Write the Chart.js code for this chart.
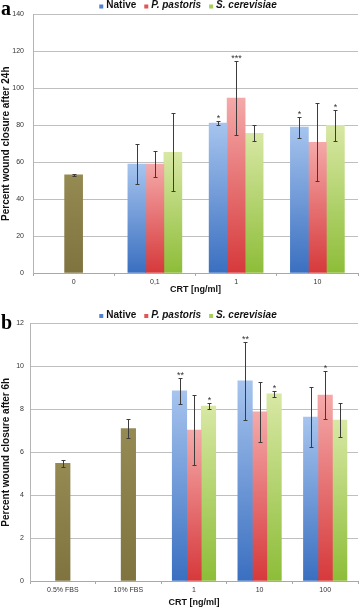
<!DOCTYPE html>
<html>
<head>
<meta charset="utf-8">
<script src="https://cdn.jsdelivr.net/npm/chart.js@4.4.1/dist/chart.umd.min.js"></script>
<style>
  body { margin: 0; background: #fff; }
  .box { position: relative; width: 359px; }
</style>
</head>
<body>
<div class="box" style="height:300px"><canvas id="chartA"></canvas></div>
<div class="box" style="height:309px"><canvas id="chartB"></canvas></div>
<script>
const seriesNames = ['Native', 'P. pastoris', 'S. cerevisiae'];

// panel a - 24h
const catsA = ['0', '0,1', '1', '10'];
const yTicksA = [0, 20, 40, 60, 80, 100, 120, 140];
const controlA = [53.2, null, null, null];
const controlErrA = [0.5, null, null, null];
const nativeA = [null, 59, 81.2, 79];
const nativeErrA = [null, 11, 1, 5.7];
const pastorisA = [null, 59, 94.8, 70.8];
const pastorisErrA = [null, 7, 20, 21];
const cerevisiaeA = [null, 65.4, 75.7, 80];
const cerevisiaeErrA = [null, 21, 4.3, 8.5];
const nativeSigA = ['', '', '*', '*'];
const pastorisSigA = ['', '', '***', ''];
const cerevisiaeSigA = ['', '', '', '*'];

// panel b - 6h
const catsB = ['0.5% FBS', '10% FBS', '1', '10', '100'];
const yTicksB = [0, 2, 4, 6, 8, 10, 12];
const controlB = [5.48, 7.1, null, null, null];
const controlErrB = [0.15, 0.45, null, null, null];
const nativeB = [null, null, 8.86, 9.33, 7.64];
const nativeErrB = [null, null, 0.6, 1.83, 1.38];
const pastorisB = [null, null, 7.03, 7.88, 8.67];
const pastorisErrB = [null, null, 1.63, 1.4, 1.13];
const cerevisiaeB = [null, null, 8.15, 8.72, 7.5];
const cerevisiaeErrB = [null, null, 0.15, 0.15, 0.8];
const nativeSigB = ['', '', '**', '**', ''];
const pastorisSigB = ['', '', '', '', '*'];
const cerevisiaeSigB = ['', '', '*', '*', ''];

const FONT = '"Liberation Sans", Arial, sans-serif';

function barFill(top, bottom) {
  return function (c) {
    const chart = c.chart;
    const v = c.parsed ? c.parsed.y : null;
    const y = chart.scales && chart.scales.y;
    if (v == null || !y) return bottom;
    const y0 = y.getPixelForValue(v);
    const y1 = y.getPixelForValue(0);
    if (!isFinite(y0) || !isFinite(y1) || y0 === y1) return bottom;
    const g = chart.ctx.createLinearGradient(0, y0, 0, y1);
    g.addColorStop(0, top);
    g.addColorStop(1, bottom);
    return g;
  };
}

const errorBars = {
  id: 'errorBars',
  afterDatasetsDraw(chart) {
    const { ctx } = chart;
    const y = chart.scales.y;
    ctx.save();
    chart.data.datasets.forEach((ds, i) => {
      const meta = chart.getDatasetMeta(i);
      meta.data.forEach((bar, j) => {
        const v = ds.data[j];
        if (v == null) return;
        const e = ds.errors[j];
        const x = Math.round(bar.x) + 0.5;
        const yt = Math.round(y.getPixelForValue(v + e)) + 0.5;
        const yb = Math.round(y.getPixelForValue(v - e)) + 0.5;
        ctx.strokeStyle = '#3c3c3c';
        ctx.lineWidth = 1;
        ctx.beginPath();
        ctx.moveTo(x, yt); ctx.lineTo(x, yb);
        ctx.moveTo(x - 2, yt); ctx.lineTo(x + 2, yt);
        ctx.moveTo(x - 2, yb); ctx.lineTo(x + 2, yb);
        ctx.stroke();
        const s = ds.sig && ds.sig[j];
        if (s) {
          ctx.fillStyle = '#333';
          ctx.font = '9px ' + FONT;
          ctx.textAlign = 'center';
          ctx.textBaseline = 'alphabetic';
          ctx.fillText(s, x, yt - 1);
        }
      });
    });
    ctx.restore();
  }
};

const panelLegend = {
  id: 'panelLegend',
  afterDraw(chart, args, o) {
    const { ctx } = chart;
    ctx.save();
    // panel letter
    ctx.fillStyle = '#000';
    ctx.font = 'bold 20px "Liberation Serif", "Times New Roman", serif';
    ctx.textAlign = 'left';
    ctx.textBaseline = 'alphabetic';
    ctx.fillText(o.letter, 1, o.letterY);
    // legend
    const items = chart.data.datasets.filter(d => d.inLegend);
    const fonts = items.map(d => (d.italic ? 'italic ' : '') + 'bold 10px ' + FONT);
    const widths = items.map((d, i) => { ctx.font = fonts[i]; return ctx.measureText(d.label).width; });
    const total = widths.reduce((a, w) => a + w + 7, 0) + (items.length - 1) * 8;
    let x = o.centerX - total / 2;
    ctx.textBaseline = 'middle';
    items.forEach((d, i) => {
      ctx.fillStyle = d.swatch;
      ctx.fillRect(x, o.legendY - 1, 4, 4);
      x += 7;
      ctx.fillStyle = '#111';
      ctx.font = fonts[i];
      ctx.fillText(d.label, x, o.legendY);
      x += widths[i] + 8;
    });
    ctx.restore();
  }
};

function makeDatasets(ctrl, ctrlErr, series, errs, sigs) {
  const sets = [{
    label: 'control', data: ctrl, errors: ctrlErr, sig: null, inLegend: false,
    backgroundColor: barFill('#958a52', '#7f733f')
  }];
  const tops = ['#a6c4ee', '#f5a9a9', '#d8e8a4'];
  const bottoms = ['#3a6fc0', '#d6393b', '#8dbd38'];
  const swatches = ['#4f82cc', '#e05656', '#a6cf5a'];
  series.forEach((data, i) => {
    sets.push({
      label: seriesNames[i], data: data, errors: errs[i], sig: sigs[i],
      inLegend: true, italic: i > 0, swatch: swatches[i],
      backgroundColor: barFill(tops[i], bottoms[i])
    });
  });
  return sets;
}

function makeChart(id, cats, yTicks, datasets, p) {
  return new Chart(document.getElementById(id), {
    type: 'bar',
    data: { labels: cats, datasets: datasets },
    options: {
      responsive: true,
      maintainAspectRatio: false,
      animation: false,
      skipNull: true,
      barThickness: p.barThickness,
      borderWidth: 0,
      layout: { padding: { top: p.padTop, right: 1, left: 0, bottom: 0 } },
      scales: {
        x: {
          grid: { drawOnChartArea: false, drawTicks: true, tickLength: 3, color: '#a8a8a8', offset: true },
          border: { color: '#a8a8a8' },
          ticks: { color: '#333', font: { family: FONT, size: 7 }, padding: 1.5, maxRotation: 0, autoSkip: false },
          title: { display: true, text: 'CRT [ng/ml]', color: '#111', font: { family: FONT, size: 9, weight: 'bold' }, padding: { top: 0, bottom: p.xTitlePad } },
          afterFit: s => { s.height = p.xHeight; }
        },
        y: {
          min: yTicks[0],
          max: yTicks[yTicks.length - 1],
          afterBuildTicks: s => { s.ticks = yTicks.map(v => ({ value: v })); },
          grid: { color: '#bfbfbf', drawTicks: false },
          border: { color: '#b4b4b4' },
          ticks: { color: '#333', font: { family: FONT, size: 7 }, padding: p.yTickPad },
          title: { display: true, text: p.yTitle, color: '#111', font: { family: FONT, size: 10, weight: 'bold' }, padding: 0 },
          afterFit: s => { s.width = p.yWidth; }
        }
      },
      plugins: {
        legend: { display: false },
        tooltip: { enabled: false },
        panelLegend: p.legend
      }
    },
    plugins: [errorBars, panelLegend]
  });
}

makeChart('chartA', catsA, yTicksA,
  makeDatasets(controlA, controlErrA,
    [nativeA, pastorisA, cerevisiaeA],
    [nativeErrA, pastorisErrA, cerevisiaeErrA],
    [nativeSigA, pastorisSigA, cerevisiaeSigA]),
  {
    yTitle: 'Percent wound closure after 24h', barThickness: 18,
    padTop: 14.5, xHeight: 27, yWidth: 33, yTickPad: 9, xTitlePad: 4.6,
    legend: { letter: 'a', letterY: 15, legendY: 5.5, centerX: 188 }
  });

makeChart('chartB', catsB, yTicksB,
  makeDatasets(controlB, controlErrB,
    [nativeB, pastorisB, cerevisiaeB],
    [nativeErrB, pastorisErrB, cerevisiaeErrB],
    [nativeSigB, pastorisSigB, cerevisiaeSigB]),
  {
    yTitle: 'Percent wound closure after 6h', barThickness: 14.5,
    padTop: 23.5, xHeight: 28, yWidth: 30, yTickPad: 6, xTitlePad: 0.6,
    legend: { letter: 'b', letterY: 29, legendY: 15, centerX: 188 }
  });
</script>
</body>
</html>
